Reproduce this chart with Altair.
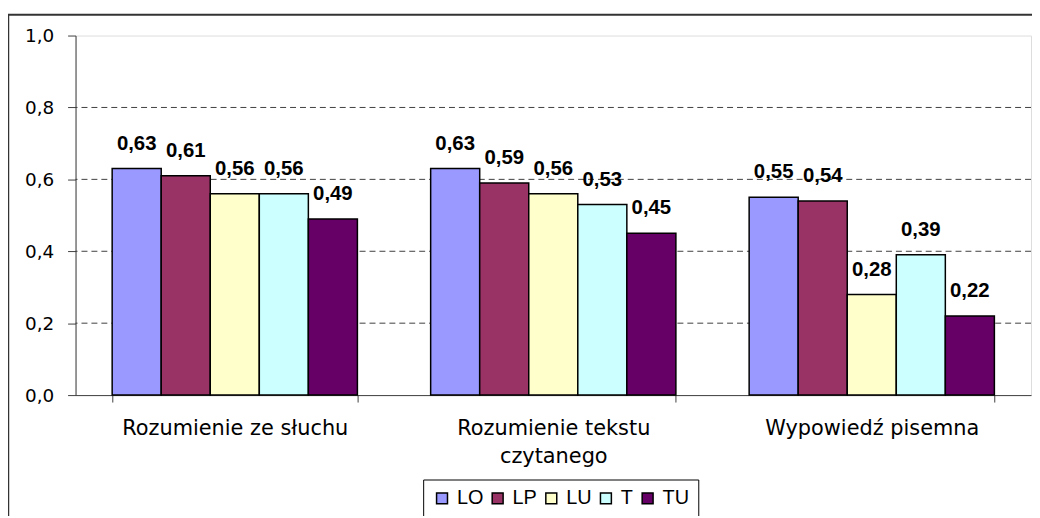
import altair as alt
import pandas as pd

categories = ["Rozumienie ze słuchu", "Rozumienie tekstu czytanego", "Wypowiedź pisemna"]
series = ["LO", "LP", "LU", "T", "TU"]
values_sluchu = [0.63, 0.61, 0.56, 0.56, 0.49]
values_czytanego = [0.63, 0.59, 0.56, 0.53, 0.45]
values_pisemna = [0.55, 0.54, 0.28, 0.39, 0.22]
colors = ["#9999FF", "#993366", "#FFFFCC", "#CCFFFF", "#660066"]
y_ticks = [0.0, 0.2, 0.4, 0.6, 0.8, 1.0]
grid_values = [0.2, 0.4, 0.6, 0.8]

rows = []
for cat, vals in zip(categories, [values_sluchu, values_czytanego, values_pisemna]):
    for s, v in zip(series, vals):
        rows.append({"kategoria": cat, "seria": s, "wartosc": v})
df = pd.DataFrame(rows)

FONT = "Liberation Sans"
AXIS_FONT = "DejaVu Sans"
AXIS_COLOR = "#404040"

x_enc = alt.X(
    "kategoria:N",
    sort=categories,
    scale=alt.Scale(paddingInner=0.23, paddingOuter=0.115),
    axis=alt.Axis(
        title=None,
        labelAngle=0,
        tickBand="extent",
        tickSize=7,
        labelPadding=16,
        labelFontSize=21,
        labelLineHeight=28,
        labelLimit=0,
        labelColor="black",
        labelFont=AXIS_FONT,
        domainColor=AXIS_COLOR,
        tickColor=AXIS_COLOR,
        labelExpr="datum.label == 'Rozumienie tekstu czytanego' ? ['Rozumienie tekstu', 'czytanego'] : datum.label",
    ),
)
xoff_enc = alt.XOffset("seria:N", sort=series, scale=alt.Scale(paddingInner=0, paddingOuter=0))
y_scale = alt.Scale(domain=[0, 1])
y_enc = alt.Y(
    "wartosc:Q",
    scale=y_scale,
    axis=alt.Axis(
        title=None,
        values=y_ticks,
        grid=False,
        tickSize=8,
        labelPadding=14,
        labelFontSize=18.5,
        labelColor="black",
        labelFont=AXIS_FONT,
        domainColor=AXIS_COLOR,
        tickColor=AXIS_COLOR,
        labelExpr="replace(format(datum.value, '.1f'), '.', ',')",
    ),
)

grid = alt.Chart(pd.DataFrame({"g": grid_values})).mark_rule(
    color="#404040", strokeDash=[6, 4], strokeWidth=1
).encode(y=alt.Y("g:Q", scale=y_scale))

bars = alt.Chart(df).mark_bar(stroke="black", strokeWidth=1.5).encode(
    x=x_enc,
    xOffset=xoff_enc,
    y=y_enc,
    color=alt.Color(
        "seria:N",
        sort=series,
        scale=alt.Scale(domain=series, range=colors),
        legend=alt.Legend(
            title=None,
            orient="none",
            legendX=350,
            legendY=447,
            direction="horizontal",
            symbolType="square",
            symbolSize=121,
            symbolStrokeColor="black",
            symbolStrokeWidth=1.5,
            symbolOpacity=1,
            labelFontSize=20,
            labelFont=FONT,
            labelColor="black",
            labelOffset=5,
            columnPadding=4,
            padding=9,
            strokeColor="black",
            fillColor="white",
        ),
    ),
)

labels = alt.Chart(df).transform_calculate(
    etykieta="replace(format(datum.wartosc, '.2f'), '.', ',')"
).mark_text(
    font=FONT, fontSize=20.5, fontWeight="bold", baseline="alphabetic", dy=-19, color="black"
).encode(
    x=alt.X("kategoria:N", sort=categories),
    xOffset=alt.XOffset("seria:N", sort=series),
    y=alt.Y("wartosc:Q", scale=y_scale),
    text="etykieta:N",
)

frame_top = alt.Chart(alt.Data(values=[{}])).mark_rule(color="#333333", strokeWidth=2).encode(
    x=alt.value(-68), x2=alt.value(1000), y=alt.value(-21)
)
frame_left = alt.Chart(alt.Data(values=[{}])).mark_rule(color="#333333", strokeWidth=1.5).encode(
    x=alt.value(-67.5), y=alt.value(-21), y2=alt.value(600)
)

chart = alt.layer(grid, bars, labels, frame_top, frame_left).properties(
    width=962,
    height=362,
    autosize=alt.AutoSizeParams(type="none"),
    padding={"left": 68, "top": 26, "right": 1, "bottom": 120},
).configure_view(
    stroke="#808080", strokeWidth=1
).configure(background="white")

chart.save("out.html", embed_options={"renderer": "svg", "actions": False})
